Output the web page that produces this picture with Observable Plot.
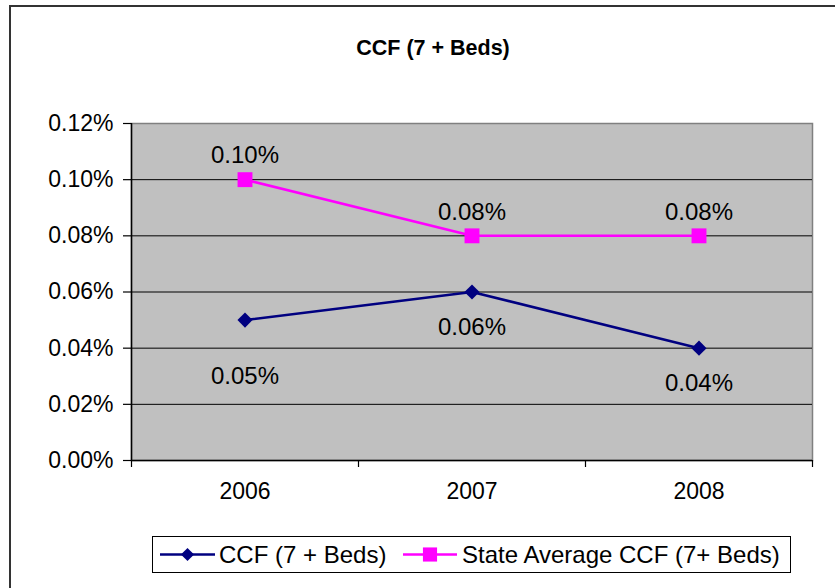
<!DOCTYPE html>
<html>
<head>
<meta charset="utf-8">
<script src="https://cdn.jsdelivr.net/npm/d3@7"></script>
<script src="https://cdn.jsdelivr.net/npm/@observablehq/plot@0.6"></script>
<style>
  html, body { margin: 0; padding: 0; background: #fff; }
  #wrap { position: relative; width: 835px; height: 588px; overflow: hidden; font-family: "Liberation Sans", Arial, sans-serif; }
  #border { position: absolute; left: 9px; top: 5px; width: 900px; height: 700px; border-top: 2px solid #333; border-left: 2px solid #333; box-sizing: border-box; pointer-events: none; }
  #title { position: absolute; left: 0; width: 866px; top: 36px; text-align: center; font-weight: bold; font-size: 21.5px; color: #000; }
  #legend { position: absolute; left: 0; top: 0; }
  #chart { position: absolute; left: 0; top: 0; }
</style>
</head>
<body>
<div id="wrap">
  <div id="chart"></div>
  <div id="title">CCF (7 + Beds)</div>
  <svg id="legend" width="835" height="588"></svg>
  <div id="border"></div>
</div>
<script>
// ---- data ----
const years = ["2006", "2007", "2008"];
const ccfValues = [0.0005, 0.0006, 0.0004];
const stateAvgValues = [0.0010, 0.0008, 0.0008];
const yTicks = [0, 0.0002, 0.0004, 0.0006, 0.0008, 0.0010, 0.0012];
const seriesNames = ["CCF (7 + Beds)", "State Average CCF (7+ Beds)"];
const seriesColors = ["#000080", "#FF00FF"];

const fmt = d3.format(".2%");
const ccf = years.map((y, i) => ({i, year: y, value: ccfValues[i]}));
const state = years.map((y, i) => ({i, year: y, value: stateAvgValues[i]}));
const pos = d => d.i + 0.5;

const chart = Plot.plot({
  width: 835,
  height: 588,
  marginLeft: 131,
  marginRight: 23,
  marginTop: 123,
  marginBottom: 128,
  style: {fontFamily: '"Liberation Sans", Arial, sans-serif', fontSize: "23px", color: "#000", background: "transparent"},
  x: {type: "linear", domain: [0, 3], axis: null},
  y: {domain: [0, 0.0012], axis: null},
  marks: [
    Plot.frame({fill: "#C0C0C0", stroke: "#808080", strokeWidth: 1.5}),
    Plot.ruleY(yTicks.filter(t => t > 0 && t < 0.0012), {stroke: "#000", strokeWidth: 1}),
    Plot.ruleX([0], {stroke: "#000", strokeWidth: 1.5}),
    Plot.ruleY([0], {stroke: "#000", strokeWidth: 1.5}),
    Plot.axisY({ticks: yTicks, tickFormat: fmt, tickSize: 8, tickPadding: 10, fontSize: 23, stroke: "#000", strokeWidth: 1.2, label: null}),
    Plot.axisX({ticks: [0, 1, 2, 3], tickFormat: () => "", tickSize: 7, stroke: "#000", strokeWidth: 1.2, label: null}),
    Plot.axisX({ticks: [0.5, 1.5, 2.5], tickFormat: t => years[Math.floor(t)], tickSize: 0, tickPadding: 22, fontSize: 23, label: null}),
    Plot.line(state, {x: pos, y: "value", stroke: seriesColors[1], strokeWidth: 2.5}),
    Plot.line(ccf, {x: pos, y: "value", stroke: seriesColors[0], strokeWidth: 2.5}),
    Plot.dot(state, {x: pos, y: "value", symbol: "square", r: 8.4, fill: seriesColors[1], stroke: null}),
    Plot.dot(ccf, {x: pos, y: "value", symbol: "diamond2", r: 6.8, fill: seriesColors[0], stroke: null}),
    Plot.text(state, {x: pos, y: "value", text: d => fmt(d.value), dy: -24, fontSize: 24, fill: "#000"}),
    Plot.text(ccf.filter(d => d.i === 0), {x: pos, y: "value", text: d => fmt(d.value), dy: 56, fontSize: 24, fill: "#000"}),
    Plot.text(ccf.filter(d => d.i !== 0), {x: pos, y: "value", text: d => fmt(d.value), dy: 35, fontSize: 24, fill: "#000"})
  ]
});
document.getElementById("chart").appendChild(chart);

// ---- legend ----
const lg = d3.select("#legend");
lg.append("rect").attr("x", 152.5).attr("y", 536.5).attr("width", 638).attr("height", 36)
  .attr("fill", "#fff").attr("stroke", "#000").attr("stroke-width", 1);
const items = [
  {x0: 160, x1: 215, tx: 219, sym: d3.symbolDiamond2, size: 110},
  {x0: 403, x1: 457, tx: 462, sym: d3.symbolSquare, size: 200}
];
items.forEach((it, k) => {
  const cy = 554.5;
  lg.append("line").attr("x1", it.x0).attr("x2", it.x1).attr("y1", cy).attr("y2", cy)
    .attr("stroke", seriesColors[k]).attr("stroke-width", 2.5);
  lg.append("path").attr("d", d3.symbol(it.sym, it.size)())
    .attr("transform", `translate(${(it.x0 + it.x1) / 2},${cy})`).attr("fill", seriesColors[k]);
  lg.append("text").attr("x", it.tx).attr("y", cy).attr("dy", "0.35em")
    .attr("font-family", '"Liberation Sans", Arial, sans-serif').attr("font-size", 24)
    .attr("fill", "#000").text(seriesNames[k]);
});
</script>
</body>
</html>
